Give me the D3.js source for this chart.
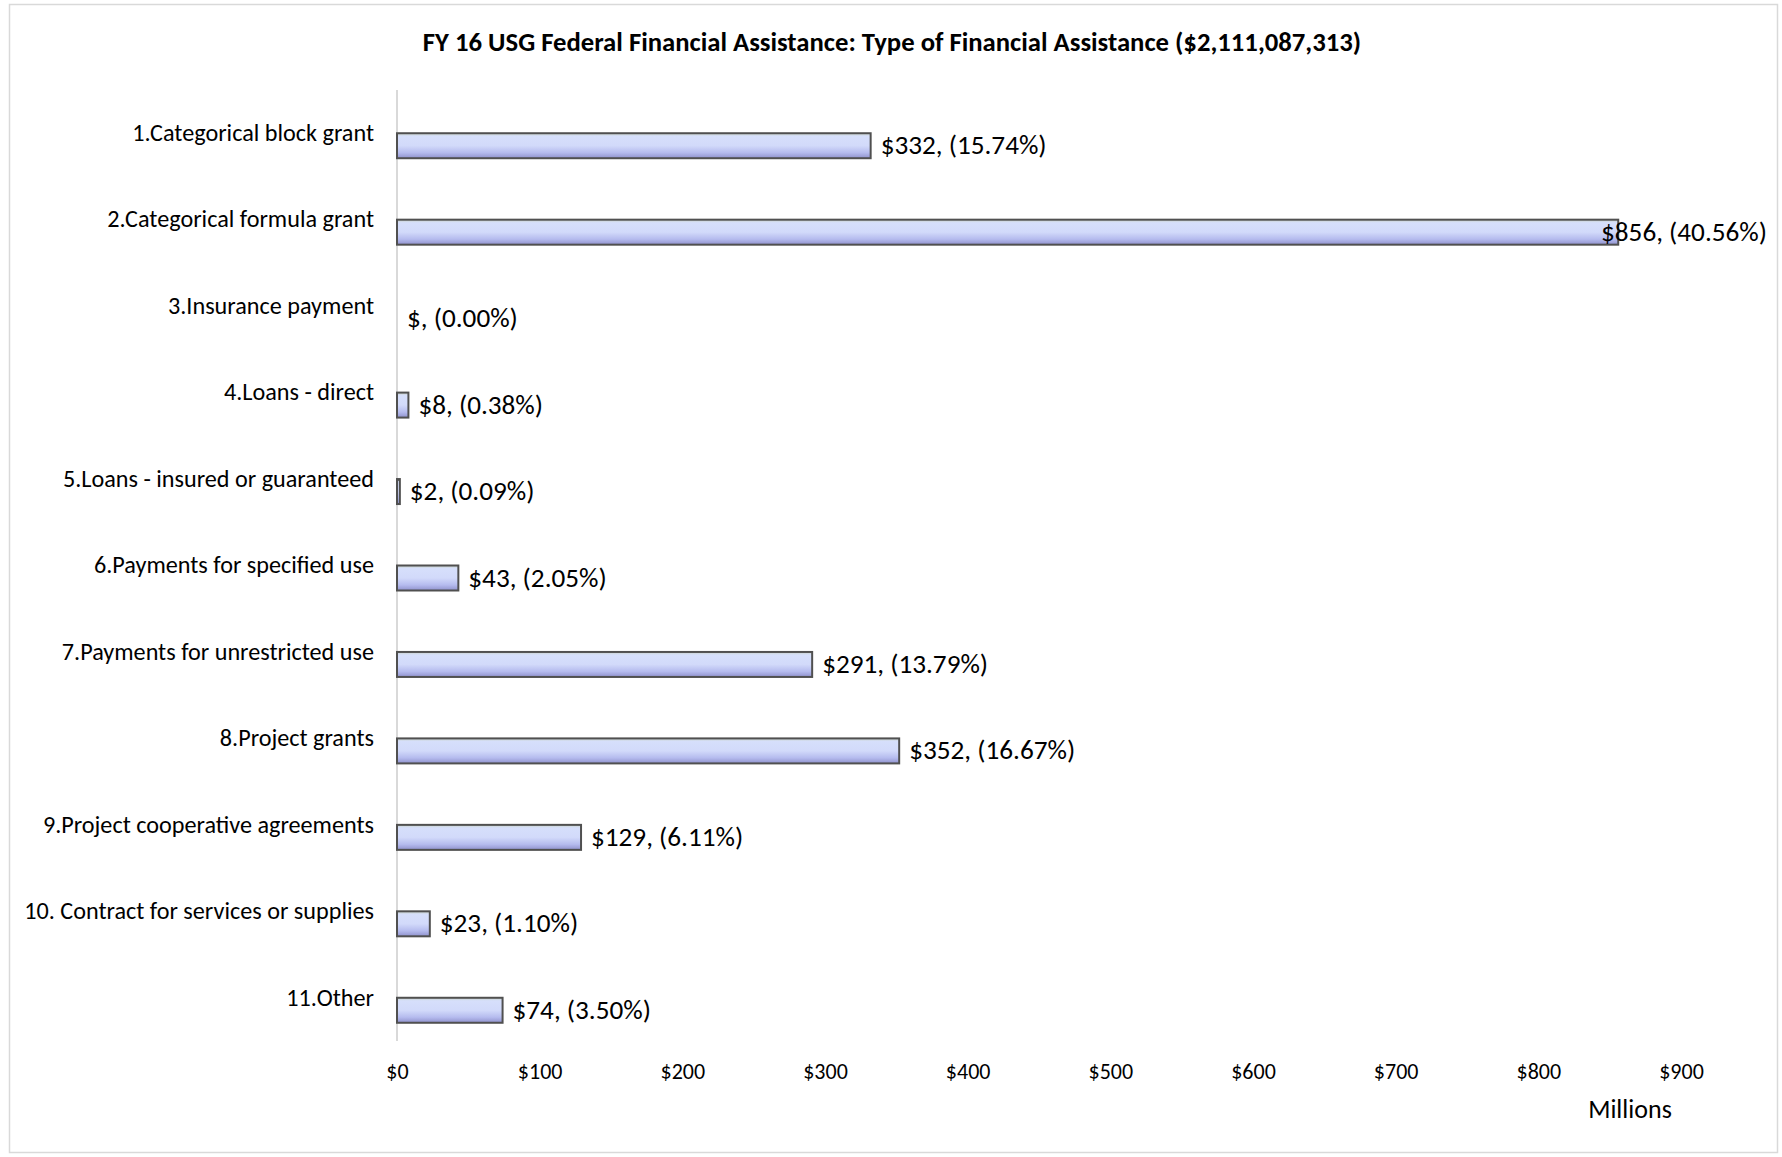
<!DOCTYPE html>
<html>
<head>
<meta charset="utf-8">
<script src="https://cdn.jsdelivr.net/npm/d3@7"></script>
<style>
  body { margin: 0; background: #fff; }
  text { font-family: Carlito, Lato, "Noto Sans", sans-serif; fill: #000; }
</style>
</head>
<body>
<div id="chart"></div>
<script>
// data (millions of dollars)
var categories = ["1.Categorical block grant", "2.Categorical formula grant", "3.Insurance payment",
  "4.Loans - direct", "5.Loans - insured or guaranteed", "6.Payments for specified use",
  "7.Payments for unrestricted use", "8.Project grants", "9.Project cooperative agreements",
  "10. Contract for services or supplies", "11.Other"];
var values = [332, 856, 0, 8, 2, 43, 291, 352, 129, 23, 74];
var amountLabels = ["332", "856", "", "8", "2", "43", "291", "352", "129", "23", "74"];
var percents = ["15.74", "40.56", "0.00", "0.38", "0.09", "2.05", "13.79", "16.67", "6.11", "1.10", "3.50"];
var xTicks = [0, 100, 200, 300, 400, 500, 600, 700, 800, 900];
var title = "FY 16 USG Federal Financial Assistance: Type of Financial Assistance ($2,111,087,313)";

ChartBars();

function ChartBars(){
  var fullWidth = 1782, fullHeight = 1157;
  var plot = {left: 397, right: 1681, top: 90, bottom: 1041};

  var svg = d3.select("#chart").append("svg")
      .attr("width", fullWidth)
      .attr("height", fullHeight);

  // bar gradient
  var grad = svg.append("defs").append("linearGradient")
      .attr("id", "barFill").attr("x1", 0).attr("y1", 0).attr("x2", 0).attr("y2", 1);
  [["0%", "#c9d3c9"], ["12%", "#d6dffb"], ["50%", "#d2dafa"], ["78%", "#b5bbee"], ["100%", "#8f91cc"]]
    .forEach(function(s){ grad.append("stop").attr("offset", s[0]).attr("stop-color", s[1]); });

  // outer frame
  svg.append("rect")
     .attr("x", 9.5).attr("y", 4.5)
     .attr("width", 1768).attr("height", 1148)
     .attr("fill", "#fff").attr("stroke", "#d9d9d9").attr("stroke-width", 1.5);

  var x = d3.scaleLinear().domain([0, 900]).range([plot.left, plot.right]);
  var y = d3.scaleBand().domain(categories).range([plot.top, plot.bottom]);

  // title
  svg.append("text")
     .attr("x", 892).attr("y", 44.5)
     .attr("text-anchor", "middle").attr("dominant-baseline", "middle")
     .style("font-size", "26.7px").style("font-weight", "bold")
     .text(title);

  // x axis labels (no axis line)
  var xAxis = d3.axisBottom(x).tickValues(xTicks).tickSize(0).tickPadding(0)
      .tickFormat(function(d){ return "$" + d; });
  var gx = svg.append("g").attr("transform", "translate(0,1074)").call(xAxis);
  gx.select(".domain").remove();
  gx.selectAll("text").attr("dy", null).attr("dominant-baseline", "middle")
    .style("font-size", "22px").style("font-family", null);

  svg.append("text")
     .attr("x", 1630).attr("y", 1112)
     .attr("text-anchor", "middle").attr("dominant-baseline", "middle")
     .style("font-size", "26px")
     .text("Millions");

  // category axis
  var yAxis = d3.axisLeft(y).tickSize(0).tickPadding(23);
  var gy = svg.append("g").attr("transform", "translate(" + plot.left + ",2)").call(yAxis);
  gy.select(".domain").remove();
  gy.selectAll("text").attr("dy", null).attr("dominant-baseline", "middle")
    .style("font-size", "24.2px").style("font-family", null);

  svg.append("line")
     .attr("x1", plot.left).attr("x2", plot.left)
     .attr("y1", plot.top).attr("y2", plot.bottom)
     .attr("stroke", "#d9d9d9").attr("stroke-width", 2);

  // bars: upper edge sits on the category centre
  var barH = 25;
  var rows = categories.map(function(c, i){
    return {cat: c, value: values[i], amount: amountLabels[i], pct: percents[i]};
  });

  svg.append("g").selectAll("rect")
     .data(rows.filter(function(d){ return d.value > 0; }))
     .enter().append("rect")
     .attr("x", x(0))
     .attr("y", function(d){ return y(d.cat) + y.bandwidth() / 2; })
     .attr("width", function(d){ return x(d.value) - x(0); })
     .attr("height", barH)
     .attr("fill", "url(#barFill)")
     .attr("stroke", "#505050").attr("stroke-width", 2);

  // value labels, pushed back inside the chart if they would overflow
  svg.append("g").selectAll("text")
     .data(rows).enter().append("text")
     .attr("x", function(d){ return x(d.value) + 10; })
     .attr("y", function(d){ return y(d.cat) + y.bandwidth() / 2 + barH / 2 + 2; })
     .attr("dominant-baseline", "middle")
     .style("font-size", "27.2px")
     .text(function(d){ return "$" + d.amount + ", (" + d.pct + "%)"; })
     .each(function(){
       var t = d3.select(this), w = this.getComputedTextLength(), x0 = +t.attr("x");
       if (x0 + w > 1767) t.attr("x", 1767 - w);
     });
}
</script>
</body>
</html>
